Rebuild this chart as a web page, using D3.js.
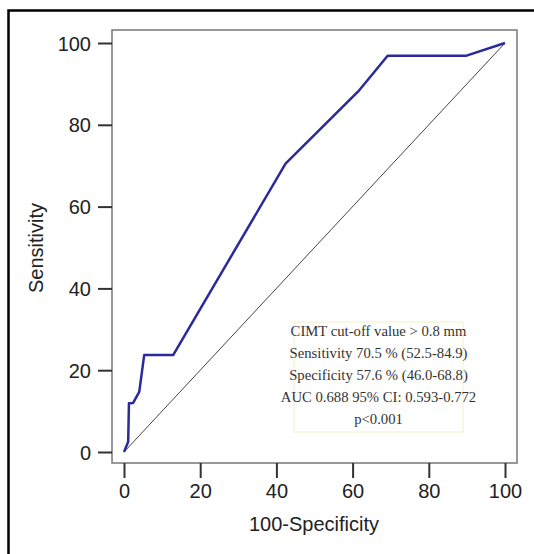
<!DOCTYPE html>
<html>
<head>
<meta charset="utf-8">
<script src="https://cdn.jsdelivr.net/npm/d3@7"></script>
<style>
  body { margin: 0; background: #fff; }
  svg { display: block; }
</style>
</head>
<body>
<div id="chart"></div>
<script>
// ROC curve points (100-Specificity, Sensitivity)
var fpr = [0, 1.1, 1.3, 2.4, 4.0, 5.3, 12.9, 42.4, 61.8, 69.2, 89.9, 100];
var tpr = [0, 2.5, 11.9, 12, 14.7, 23.7, 23.7, 70.5, 88.5, 96.9, 96.9, 100];

var xTicks = [0, 20, 40, 60, 80, 100];
var yTicks = [0, 20, 40, 60, 80, 100];

var noteLines = [
    "CIMT cut-off value > 0.8 mm",
    "Sensitivity 70.5 % (52.5-84.9)",
    "Specificity 57.6 % (46.0-68.8)",
    "AUC 0.688 95% CI: 0.593-0.772",
    "p<0.001"
];

var width = 534, height = 554;
var sans = "'Liberation Sans', Arial, sans-serif";

var svg = d3.select("#chart").append("svg")
    .attr("width", width)
    .attr("height", height);

// outer figure border (only top and left fall inside the picture)
svg.append("rect")
    .attr("x", 8.5)
    .attr("y", 10.5)
    .attr("width", 540)
    .attr("height", 560)
    .attr("fill", "none")
    .attr("stroke", "#000")
    .attr("stroke-width", 2.5);

var x = d3.scaleLinear().domain([0, 100]).range([124, 505]);
var y = d3.scaleLinear().domain([0, 100]).range([452, 43]);

// plot frame
var frame = { left: 112, top: 30, right: 517, bottom: 463 };
svg.append("rect")
    .attr("x", frame.left)
    .attr("y", frame.top)
    .attr("width", frame.right - frame.left)
    .attr("height", frame.bottom - frame.top)
    .attr("fill", "none")
    .attr("stroke", "#777")
    .attr("stroke-width", 1.5);

// y axis
var yAxis = svg.append("g")
    .attr("transform", "translate(" + frame.left + ",0)")
    .call(d3.axisLeft(y).tickValues(yTicks).tickSize(14).tickPadding(7));

// x axis
var xAxis = svg.append("g")
    .attr("transform", "translate(0," + frame.bottom + ")")
    .call(d3.axisBottom(x).tickValues(xTicks).tickSize(15).tickPadding(6));

[yAxis, xAxis].forEach(function(ax) {
    ax.attr("font-size", 20).attr("font-family", sans);
    ax.select(".domain").remove();
    ax.selectAll(".tick line").attr("stroke", "#333").attr("stroke-width", 2);
    ax.selectAll(".tick text").attr("fill", "#222");
});
yAxis.selectAll(".tick text").attr("dy", "0.35em");

// axis titles
svg.append("text")
    .attr("transform", "translate(43,248) rotate(-90)")
    .attr("text-anchor", "middle")
    .attr("fill", "#222")
    .attr("font-family", sans)
    .attr("font-size", 20)
    .text("Sensitivity");

svg.append("text")
    .attr("x", 314)
    .attr("y", 531)
    .attr("text-anchor", "middle")
    .attr("fill", "#222")
    .attr("font-family", sans)
    .attr("font-size", 20)
    .text("100-Specificity");

// reference diagonal
svg.append("line")
    .attr("x1", x(0)).attr("y1", y(0))
    .attr("x2", x(100)).attr("y2", y(100))
    .attr("stroke", "#444")
    .attr("stroke-width", 1);

// ROC curve
var pts = fpr.map(function(d, i) { return [d, tpr[i]]; });
var line = d3.line()
    .x(function(d) { return x(d[0]); })
    .y(function(d) { return y(d[1]); });

svg.append("path")
    .datum(pts)
    .attr("d", line)
    .attr("fill", "none")
    .attr("stroke", "#2a2a9a")
    .attr("stroke-width", 2.5)
    .attr("stroke-linejoin", "round");

// annotation box
svg.append("rect")
    .attr("x", 294)
    .attr("y", 322)
    .attr("width", 169)
    .attr("height", 110)
    .attr("fill", "none")
    .attr("stroke", "#f2f0c4")
    .attr("stroke-width", 1);

svg.append("g").selectAll("text")
    .data(noteLines)
    .enter().append("text")
    .attr("x", 378.5)
    .attr("y", function(d, i) { return 336 + i * 22; })
    .attr("text-anchor", "middle")
    .attr("fill", "#333")
    .attr("font-family", "'Liberation Serif', 'Times New Roman', serif")
    .attr("font-size", 14.7)
    .text(function(d) { return d; });
</script>
</body>
</html>
